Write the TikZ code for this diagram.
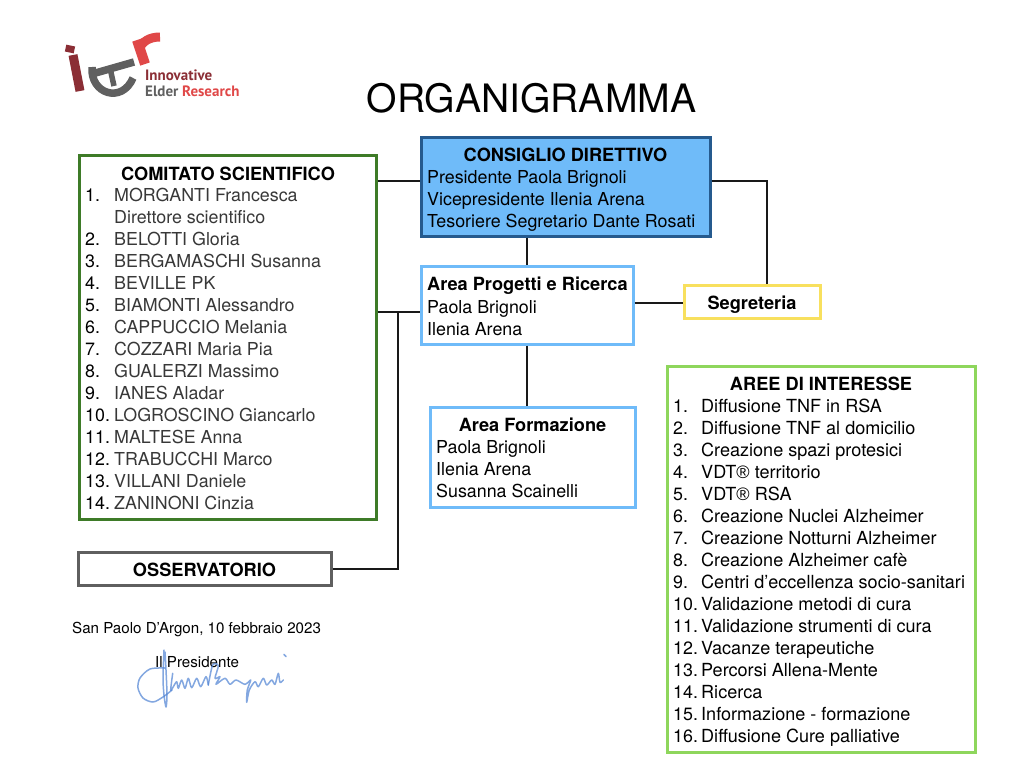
\documentclass[tikz,border=0pt]{standalone}
\usepackage{fontspec}
\setmainfont{TeX Gyre Heros}
\newfontfamily\logofont{PT Sans}
\newfontfamily\marchiofont{Liberation Sans}
\newcommand{\marchio}{{\marchiofont ®}}
\usepackage{xcolor}
\usetikzlibrary{positioning}
\definecolor{cieloBlu}{HTML}{6FBBF9}
\definecolor{notteBlu}{HTML}{255A8E}
\definecolor{verdeBox}{HTML}{3E7B28}
\definecolor{verdeChiaro}{HTML}{8ED65C}
\definecolor{gialloBox}{HTML}{F8E05E}
\definecolor{grigioBox}{HTML}{5F5F5F}
\definecolor{logoRosso}{HTML}{E04848}
\definecolor{logoScuro}{HTML}{8B2E35}
\definecolor{logoGrigio}{HTML}{606060}
\definecolor{firmaBlu}{HTML}{4F83D4}
\tikzset{
    box/.style={draw, line width=3pt, inner sep=0pt},
    riga/.style={anchor=base west, inner sep=0pt, font=\fontsize{17.85}{20}\selectfont},
    rigaarea/.style={anchor=base west, inner sep=0pt, font=\fontsize{18.05}{20}\selectfont},
    titolo/.style={anchor=base, inner sep=0pt, font=\fontsize{18.2}{20}\selectfont\bfseries},
    link/.style={draw=black!90, line width=2pt},
    firma/.style={firmaBlu, line width=1.5pt, line cap=round, line join=round, opacity=.7},
    etichetta/.style={font=\fontsize{18.2}{20}\selectfont\bfseries, text height=15.5pt, text depth=0pt},
}
\begin{document}
\begin{tikzpicture}[x=1pt, y=-1pt]
    \useasboundingbox (0,0) rectangle (1024,768);
    \fill[white] (0,0) rectangle (1024,768);

    % logo
    \fill[logoScuro, rotate around={-12:(70,49)}] (65.5,45.5) rectangle (74.5,52.5);
    \draw[logoScuro, line width=9pt] (73,55) -- (80,91);
    \draw[logoGrigio, line width=7.5pt] (92,74) -- (134,62);
    \draw[logoGrigio, line width=7.5pt] (92,67) .. controls (90,94) and (122,104) .. (133,78);
    \draw[logoGrigio, line width=5.5pt] (110,68) -- (114,86);
    \draw[logoRosso, line width=10pt] (137,40) -- (145,64);
    \draw[logoRosso, line width=9pt] (139,50) .. controls (142,41) and (150,37) .. (160,37);
    \node[anchor=base west, inner sep=0pt, logoScuro, font=\logofont\fontsize{15}{15}\selectfont\bfseries] (logoUno) at (145,81) {Innovative};
    \node[anchor=base west, inner sep=0pt, font=\logofont\fontsize{15}{15}\selectfont\bfseries] (logoDue) at (145,96) {\textcolor{logoGrigio}{Elder} \textcolor{logoRosso}{Research}};

    % titolo
    \node[anchor=base, inner sep=0pt, font=\fontsize{39.1}{42}\selectfont] (titoloOrg) at (531.5,112.5) {ORGANIGRAMMA};

    % riquadri
    \node[box, draw=verdeBox, minimum width=297pt, minimum height=364pt] (comitato) at (227.5,337) {};
    \node[box, draw=notteBlu, fill=cieloBlu, minimum width=289pt, minimum height=99pt] (consiglio) at (565.5,186.5) {};
    \node[box, draw=cieloBlu, minimum width=212pt, minimum height=78pt] (progetti) at (527,305) {};
    \node[box, etichetta, draw=gialloBox, minimum width=136pt, minimum height=33pt] (segreteria) at (752,301.5) {Segreteria};
    \node[box, draw=cieloBlu, minimum width=205pt, minimum height=100pt] (formazione) at (532.5,457) {};
    \node[box, draw=verdeChiaro, minimum width=308pt, minimum height=386pt] (aree) at (821,559) {};
    \node[box, etichetta, draw=grigioBox, minimum width=253pt, minimum height=33pt] (osservatorio) at (204.5,568.5) {OSSERVATORIO};

    % collegamenti
    \coordinate (snodoA) at (398,312);
    \draw[link] (comitato.east |- 0,181) -- (consiglio.west |- 0,181);
    \draw[link] (consiglio.east |- 0,181) -| (segreteria.north -| 767,0);
    \draw[link] (consiglio.south -| 527,0) -- (progetti.north);
    \draw[link] (progetti.east |- 0,303) -- (segreteria.west |- 0,303);
    \draw[link] (progetti.south) -- (formazione.north -| 527,0);
    \draw[link] (comitato.east |- snodoA) -- (progetti.west |- snodoA);
    \draw[link] (snodoA) |- (osservatorio.east);

    % testi
    \node[titolo] at (228,180) {COMITATO SCIENTIFICO};
    \foreach \y/\n/\t in {201/1./MORGANTI Francesca, 223//Direttore scientifico, 245/2./BELOTTI Gloria,
        267/3./BERGAMASCHI Susanna, 289/4./BEVILLE PK, 311/5./BIAMONTI Alessandro,
        333/6./CAPPUCCIO Melania, 355/7./COZZARI Maria Pia, 377/8./GUALERZI Massimo,
        399/9./IANES Aladar, 421/10./LOGROSCINO Giancarlo, 443/11./MALTESE Anna,
        465/12./TRABUCCHI Marco, 487/13./VILLANI Daniele, 509/14./ZANINONI Cinzia}
    {
        \node[riga] at (85,\y+.5) {\n};
        \node[riga, text=black!78] at (114,\y+.5) {\t};
    }

    \node[titolo] at (565.5,161) {CONSIGLIO DIRETTIVO};
    \foreach \y/\t in {183/Presidente Paola Brignoli, 205/Vicepresidente Ilenia Arena, 227/Tesoriere Segretario Dante Rosati}
        \node[riga] at (427,\y) {\t};

    \node[titolo, anchor=base west] at (427,290.5) {Area Progetti e Ricerca};
    \foreach \y/\t in {313/Paola Brignoli, 335/Ilenia Arena}
        \node[riga] at (427,\y) {\t};

    \node[titolo] at (532.5,431) {Area Formazione};
    \foreach \y/\t in {453/Paola Brignoli, 475/Ilenia Arena, 497/Susanna Scainelli}
        \node[riga] at (436,\y) {\t};

    \node[titolo] at (821,390) {AREE DI INTERESSE};
    \foreach \y/\n/\t in {412/1./Diffusione TNF in RSA, 434/2./Diffusione TNF al domicilio,
        456/3./Creazione spazi protesici, 478/4./VDT\marchio{} territorio, 500/5./VDT\marchio{} RSA,
        522/6./Creazione Nuclei Alzheimer, 544/7./Creazione Notturni Alzheimer,
        566/8./Creazione Alzheimer cafè, 588/9./Centri d’eccellenza socio-sanitari,
        610/10./Validazione metodi di cura, 632/11./Validazione strumenti di cura,
        654/12./Vacanze terapeutiche, 676/13./Percorsi Allena-Mente, 698/14./Ricerca,
        720/15./Informazione - formazione, 742/16./Diffusione Cure palliative}
    {
        \node[riga] at (673,\y+.5) {\n};
        \node[rigaarea] at (701,\y+.5) {\t};
    }

    \node[anchor=base west, inner sep=0pt, font=\fontsize{15.13}{17}\selectfont] (luogo) at (72,633) {San Paolo D’Argon, 10 febbraio 2023};
    \node[anchor=base west, inner sep=0pt, font=\fontsize{15.13}{17}\selectfont] (presidente) at (155,667) {Il Presidente};

    % firma
    \draw[firma] plot[smooth] coordinates {(165,668) (150,669) (140,678) (138,688) (143,698) (153,702) (163,697) (172,690)};
    \draw[firma] plot[smooth] coordinates {(164,650) (163,678) (164,695) (166,707) (167,695) (166,670) (165,652)};
    \draw[firma] plot[smooth] coordinates {(172.7,673.3) (170.7,690) (173.3,686.7) (176.7,681.7) (178.3,688.3) (181.7,680) (185,688.3) (188.3,678.3) (191.7,687.7) (196.7,678.3) (200.7,686.7) (206,676.7) (208.3,685)};
    \draw[firma] plot[smooth] coordinates {(208.3,685) (212.7,665) (218.3,665.7) (215,678.3) (220,676.7) (216,684.3) (225,678.3) (230,684.3) (236,680) (245,684.3) (250.7,680) (247.3,690) (246.7,702.3) (249.3,690) (255,681.7) (258.3,686.7) (263.3,678.3) (266.7,685) (271.7,680) (275,684.3) (278.3,673.3) (280,682.3) (283.3,680)};
    \draw[firma] (284,654.5) -- (286,656.5);
\end{tikzpicture}
\end{document}
